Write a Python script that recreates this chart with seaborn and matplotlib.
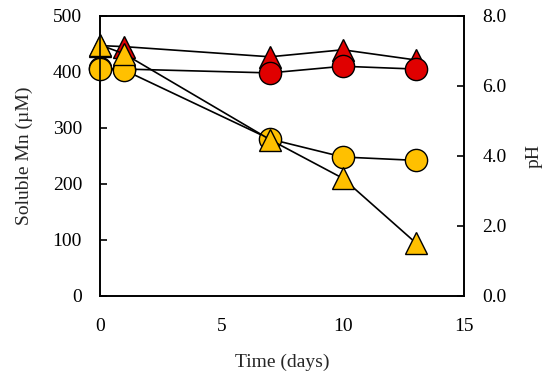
import matplotlib
matplotlib.use("Agg")
import matplotlib.pyplot as plt
import seaborn as sns
import pandas as pd

# time points (days)
days = [0, 1, 7, 10, 13]

# soluble Mn (uM)
mn_tri = [448, 432, 279, 210, 95]
mn_circ = [405, 403, 280, 248, 242]

# pH
ph_tri = [7.15, 7.12, 6.83, 7.03, 6.74]
ph_circ = [6.5, 6.48, 6.37, 6.56, 6.48]

sns.set_style("white")
plt.rcParams['font.family'] = ['Liberation Serif', 'DejaVu Serif']

fig = plt.figure(figsize=(5.5, 3.77), dpi=100)
ax = fig.add_axes([0.182, 0.215, 0.662, 0.743])
ax2 = ax.twinx()

YEL = '#FFC000'
RED = '#E00000'

df = pd.DataFrame({'day': days, 'mn_tri': mn_tri, 'mn_circ': mn_circ,
                   'ph_tri': ph_tri, 'ph_circ': ph_circ})

common = dict(color='black', linewidth=1.2, markeredgecolor='black',
              markeredgewidth=1.0, markersize=16)

sns.lineplot(data=df, x='day', y='ph_tri', ax=ax2, marker='^',
             markerfacecolor=RED, **common)
sns.lineplot(data=df, x='day', y='ph_circ', ax=ax2, marker='o',
             markerfacecolor=RED, **common)

sns.lineplot(data=df, x='day', y='mn_circ', ax=ax, marker='o',
             markerfacecolor=YEL, **common)
sns.lineplot(data=df, x='day', y='mn_tri', ax=ax, marker='^',
             markerfacecolor=YEL, **common)

ax.set_zorder(ax2.get_zorder() + 1)
ax.patch.set_visible(False)

ax.set_xlim(0, 15)
ax.set_ylim(0, 500)
ax2.set_ylim(0, 8)
ax.set_xticks([0, 5, 10, 15])
ax.set_yticks([0, 100, 200, 300, 400, 500])
ax2.set_yticks([0, 2, 4, 6, 8])
ax2.set_yticklabels(['0.0', '2.0', '4.0', '6.0', '8.0'])

FS = 14
ax.set_xlabel('Time (days)', fontsize=FS, labelpad=13)
ax.set_ylabel('Soluble Mn (\u00b5M)', fontsize=FS, labelpad=14)
ax2.set_ylabel('pH', fontsize=FS, rotation=90, labelpad=14)

for a in (ax, ax2):
    for s in a.spines.values():
        s.set_color('black')
        s.set_linewidth(1.2)
    a.tick_params(direction='in', length=5, width=1.2, labelsize=FS,
                  colors='black', pad=13)
ax.tick_params(axis='x', pad=16)
for ln in ax.lines + ax2.lines:
    ln.set_clip_on(False)

fig.savefig('out.png', dpi=100)
